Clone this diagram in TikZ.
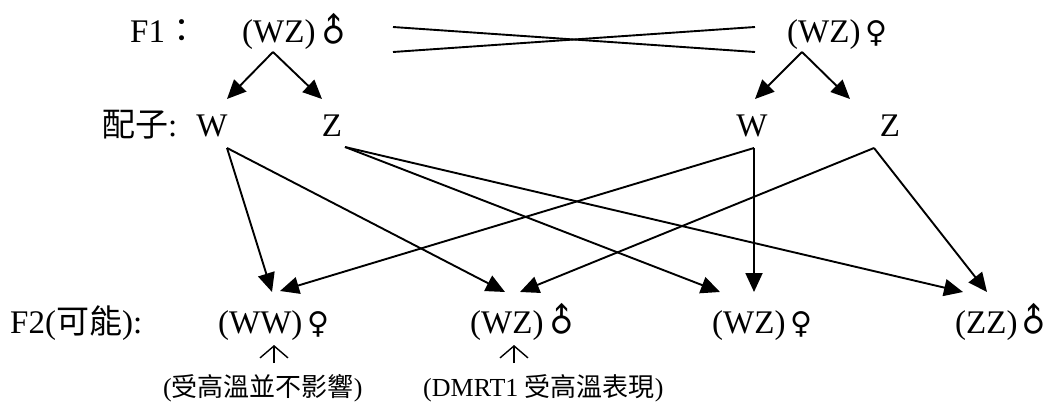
\documentclass[tikz,border=0pt]{standalone}
\usepackage{fontspec}
\setmainfont{Liberation Serif}
\newfontfamily\cjk{Noto Sans CJK TC}
\newfontfamily\symf{DejaVu Sans}
\usetikzlibrary{arrows.meta}
\newcommand\malesym{\makebox[16pt][c]{\raisebox{0.02em}{\rotatebox[origin=c]{45}{\symf\fontsize{33}{36}\selectfont ♂}}}}
\newcommand\femalesym{{\symf\fontsize{30}{30}\selectfont ♀}}
\begin{document}
\begin{tikzpicture}[x=1pt,y=-1pt,
  big/.style={inner sep=0pt, font=\fontsize{33}{38}\selectfont},
  bigw/.style={big, anchor=base west},
  bigc/.style={big, anchor=base},
  small/.style={inner sep=0pt, anchor=base west, font=\fontsize{26}{30}\selectfont},
  arr/.style={line width=1.9pt, -{Triangle[length=19pt,width=17pt]}},
  plain/.style={line width=1.9pt},
  uparr/.style={line width=1.4pt, -{Straight Barb[length=12pt,width=28pt]}}
]
\useasboundingbox (0,0) rectangle (1059,403);
% F1 row
\node[bigw] (f1) at (130,43) {F1{\cjk ：}};
\node[bigw] (p1) at (242,43) {(WZ)\hspace{10pt}\malesym};
\node[bigw] (p2) at (787,43) {(WZ)\hspace{5pt}\femalesym};
% gametes
\node[bigw] (gl) at (102,137) {{\cjk 配子}:};
\node[bigc] (w1) at (212,137) {W};
\node[bigc] (z1) at (332,137) {Z};
\node[bigc] (w2) at (752,137) {W};
\node[bigc] (z2) at (890,137) {Z};
% F2 row
\node[bigw] (f2) at (10,333) {F2({\cjk 可能}):};
\node[bigw] (c1) at (218,333) {(WW)\hspace{5pt}\femalesym};
\node[bigw] (c2) at (470,333) {(WZ)\hspace{10pt}\malesym};
\node[bigw] (c3) at (712,333) {(WZ)\hspace{5pt}\femalesym};
\node[bigw] (c4) at (955,333) {(ZZ)\hspace{8pt}\malesym};
% notes
\node[small] (n1) at (163,396) {({\cjk 受高溫並不影響})};
\node[small] (n2) at (423,396) {(DMRT1 {\cjk 受高溫表現})};
% cross lines
\coordinate (xa) at (393,27);
\coordinate (xb) at (755,52);
\coordinate (xc) at (393,52);
\coordinate (xd) at (755,27);
\draw[plain] (xa) -- (xb);
\draw[plain] (xc) -- (xd);
% F1 -> gametes
\draw[arr] ([shift={(31,9)}]p1.base west) -- ([shift={(15,-38)}]w1.base);
\draw[arr] ([shift={(31,9)}]p1.base west) -- ([shift={(-10,-38)}]z1.base);
\draw[arr] ([shift={(15,9)}]p2.base west) -- ([shift={(3,-38)}]w2.base);
\draw[arr] ([shift={(15,9)}]p2.base west) -- ([shift={(-40,-38)}]z2.base);
% gametes -> F2
\draw[arr] ([shift={(15,11)}]w1.base) -- ([shift={(54,-41)}]c1.base west);
\draw[arr] ([shift={(15,11)}]w1.base) -- ([shift={(35,-41)}]c2.base west);
\draw[arr] ([shift={(13,10)}]z1.base) -- ([shift={(8,-41)}]c3.base west);
\draw[arr] ([shift={(13,10)}]z1.base) -- ([shift={(8,-41)}]c4.base west);
\draw[arr] ([shift={(2,11)}]w2.base) -- ([shift={(62,-42)}]c1.base west);
\draw[arr] ([shift={(2,11)}]w2.base) -- ([shift={(42,-41)}]c3.base west);
\draw[arr] ([shift={(-16,11)}]z2.base) -- ([shift={(50,-41)}]c2.base west);
\draw[arr] ([shift={(-16,11)}]z2.base) -- ([shift={(32,-41)}]c4.base west);
% small arrows
\draw[uparr] ([shift={(111,-33)}]n1.base west) -- ([shift={(56,12)}]c1.base west);
\draw[uparr] ([shift={(91,-33)}]n2.base west) -- ([shift={(44,12)}]c2.base west);
\end{tikzpicture}
\end{document}
